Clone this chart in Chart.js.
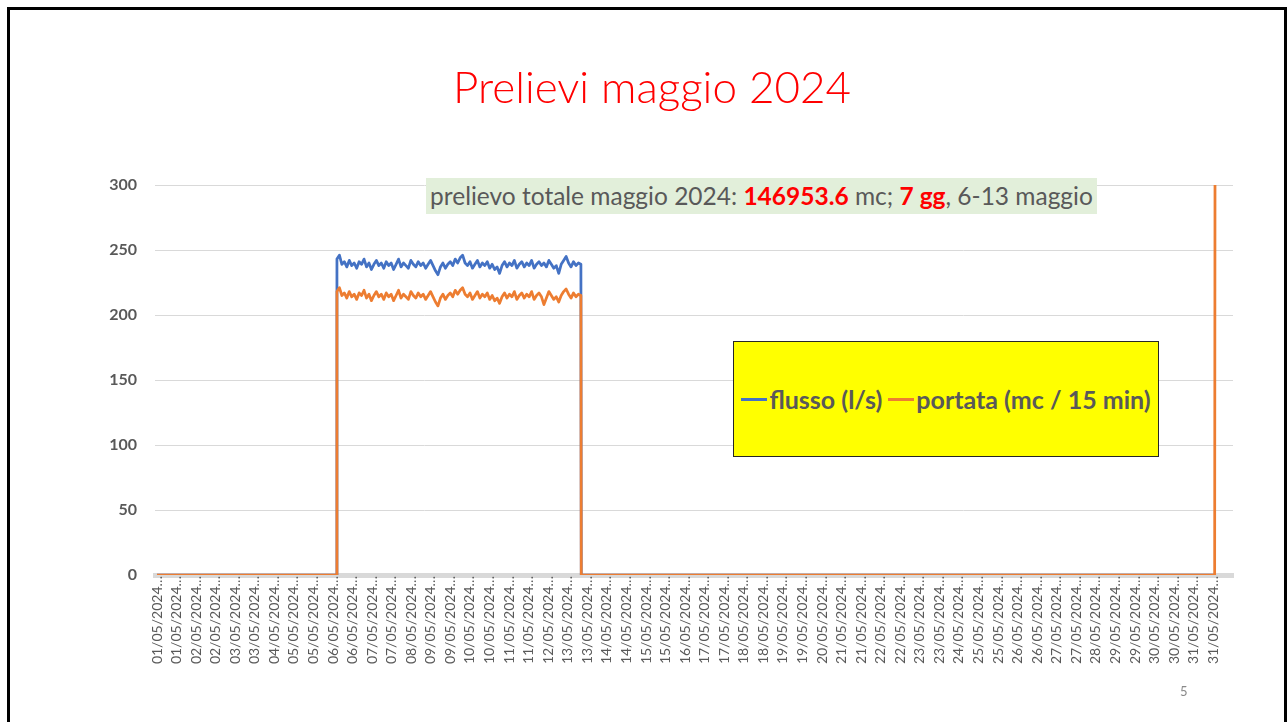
<!DOCTYPE html>
<html>
<head>
<meta charset="utf-8">
<script src="https://cdn.jsdelivr.net/npm/chart.js@4.4.1/dist/chart.umd.min.js"></script>
<style>
  body { margin: 0; width: 1287px; height: 722px; overflow: hidden; background: #fff; font-family: Lato, "Open Sans", sans-serif; }
  #frame { position: absolute; left: 7px; top: 7px; width: 1280px; height: 740px; border: 3px solid #000; box-sizing: border-box; }
  #chart { position: absolute; left: 0; top: 0; }
  #title { position: absolute; left: 0; top: 57px; width: 1304px; text-align: center; font-size: 44px; font-weight: 300; color: #ff0000; line-height: 58px; }
  #note { position: absolute; left: 426px; top: 178px; width: 671px; height: 36px; background: #e2efda; color: #595959; font-size: 24.5px; line-height: 36px; text-align: center; white-space: nowrap; }
  #note b { color: #ff0000; }
  #legend { position: absolute; left: 733px; top: 341px; width: 426px; height: 116px; background: #ffff00; border: 1px solid #262626; box-sizing: border-box; display: flex; align-items: center; justify-content: center; white-space: nowrap; }
  .item { display: flex; align-items: center; font-weight: bold; font-size: 25px; color: #595959; margin: 0 3px; }
  .swatch { width: 26px; height: 3px; margin-right: 2px; }
  #page { position: absolute; left: 1180px; top: 683px; font-size: 13px; color: #898989; }
</style>
</head>
<body>
<div id="frame"></div>
<canvas id="chart" width="1287" height="722"></canvas>
<div id="title">Prelievi maggio 2024</div>
<div id="note">prelievo totale maggio 2024: <b>146953.6</b> mc; <b>7 gg</b>, 6-13 maggio</div>
<div id="legend"></div>
<div id="page">5</div>
<script>
// etichette asse x (una ogni 13.75 ore)
const tickLabels = [
  "01/05/2024…", "01/05/2024…", "02/05/2024…", "02/05/2024…", "03/05/2024…", "03/05/2024…",
  "04/05/2024…", "05/05/2024…", "05/05/2024…", "06/05/2024…", "06/05/2024…", "07/05/2024…",
  "07/05/2024…", "08/05/2024…", "09/05/2024…", "09/05/2024…", "10/05/2024…", "10/05/2024…",
  "11/05/2024…", "11/05/2024…", "12/05/2024…", "13/05/2024…", "13/05/2024…", "14/05/2024…",
  "14/05/2024…", "15/05/2024…", "15/05/2024…", "16/05/2024…", "17/05/2024…", "17/05/2024…",
  "18/05/2024…", "18/05/2024…", "19/05/2024…", "19/05/2024…", "20/05/2024…", "21/05/2024…",
  "21/05/2024…", "22/05/2024…", "22/05/2024…", "23/05/2024…", "23/05/2024…", "24/05/2024…",
  "25/05/2024…", "25/05/2024…", "26/05/2024…", "26/05/2024…", "27/05/2024…", "27/05/2024…",
  "28/05/2024…", "29/05/2024…", "29/05/2024…", "30/05/2024…", "30/05/2024…", "31/05/2024…",
  "31/05/2024…"
];
const tickStepHours = 13.75;
const yTicks = [0, 50, 100, 150, 200, 250, 300];

// prelievo 6-13 maggio (ore dall'inizio del mese)
const plateauStartHour = 126.5;
const plateauEndHour = 298;
const monthEndHour = 743.75;

const flussoPlateau = [
  243, 246, 239, 241, 237, 242, 238, 240, 236, 241,
  239, 243, 237, 240, 235, 239, 242, 238, 240, 236,
  241, 238, 240, 235, 239, 243, 237, 240, 238, 236,
  242, 239, 237, 241, 238, 240, 236, 239, 242, 238,
  234, 231, 237, 240, 236, 239, 241, 238, 243, 240,
  244, 246, 240, 238, 241, 236, 239, 242, 237, 240,
  238, 241, 236, 239, 235, 237, 232, 238, 241, 237,
  240, 238, 242, 236, 239, 241, 237, 240, 238, 242,
  236, 239, 241, 238, 240, 237, 242, 239, 236, 238,
  232, 239, 242, 245, 240, 237, 241, 238, 240, 239
];
const portataPlateau = [
  218, 221, 215, 217, 213, 218, 214, 216, 212, 217,
  215, 219, 213, 216, 211, 215, 218, 214, 216, 212,
  217, 214, 216, 211, 215, 219, 213, 216, 214, 212,
  218, 215, 213, 217, 214, 216, 212, 215, 218, 214,
  210, 207, 213, 216, 212, 215, 217, 214, 219, 216,
  219, 221, 216, 214, 217, 212, 215, 218, 213, 216,
  214, 217, 212, 215, 211, 213, 209, 214, 217, 213,
  216, 214, 218, 212, 215, 217, 213, 216, 214, 218,
  212, 215, 217, 214, 208, 213, 218, 215, 212, 214,
  210, 215, 218, 220, 216, 213, 217, 214, 216, 215
];
const flussoLast = 0;
const portataLast = 300;

const series = [
  { label: "flusso (l/s)", color: "#4472c4", values: flussoPlateau, last: flussoLast, order: 1 },
  { label: "portata (mc / 15 min)", color: "#ed7d31", values: portataPlateau, last: portataLast, order: 0 }
];

function buildPoints(values, last) {
  const step = (plateauEndHour - plateauStartHour) / (values.length - 1);
  const pts = [{ x: 0, y: 0 }, { x: plateauStartHour - 0.25, y: 0 }];
  values.forEach((v, i) => pts.push({ x: plateauStartHour + i * step, y: v }));
  pts.push({ x: plateauEndHour + 0.25, y: 0 });
  pts.push({ x: monthEndHour - 0.25, y: 0 });
  pts.push({ x: monthEndHour, y: last });
  return pts;
}

const grey = "#595959";

new Chart(document.getElementById("chart"), {
  type: "line",
  data: {
    datasets: series.map(s => ({
      label: s.label,
      data: buildPoints(s.values, s.last),
      borderColor: s.color,
      borderWidth: 2.75,
      pointRadius: 0,
      fill: false,
      tension: 0,
      borderJoinStyle: "round",
      order: s.order
    }))
  },
  options: {
    responsive: false,
    animation: false,
    layout: { padding: { top: 185, right: 54, bottom: 0, left: 0 } },
    plugins: { legend: { display: false }, tooltip: { enabled: false } },
    scales: {
      x: {
        type: "linear",
        min: -1.4,
        max: 756.4,
        afterBuildTicks: s => { s.ticks = tickLabels.map((_, i) => ({ value: i * tickStepHours })); },
        afterFit: s => { s.height = 147; },
        ticks: {
          autoSkip: false,
          minRotation: 90,
          maxRotation: 90,
          padding: 1,
          color: grey,
          font: { family: "Lato", size: 14 },
          callback: (v, i) => tickLabels[i]
        },
        grid: { display: false, drawTicks: false },
        border: { display: true, color: "#d9d9d9", width: 5 }
      },
      y: {
        min: 0,
        max: 300,
        afterBuildTicks: s => { s.ticks = yTicks.map(v => ({ value: v })); },
        afterFit: s => { s.width = 155; },
        ticks: { color: grey, padding: 18, font: { family: "Lato", size: 16, weight: "bold" } },
        grid: { color: "#d9d9d9", lineWidth: 1, drawTicks: false },
        border: { display: false }
      }
    }
  }
});

// legenda nel riquadro giallo
const legend = document.getElementById("legend");
series.forEach(s => {
  const item = document.createElement("div");
  item.className = "item";
  item.innerHTML = `<span class="swatch" style="background:${s.color}"></span>${s.label}`;
  legend.appendChild(item);
});
</script>
</body>
</html>
